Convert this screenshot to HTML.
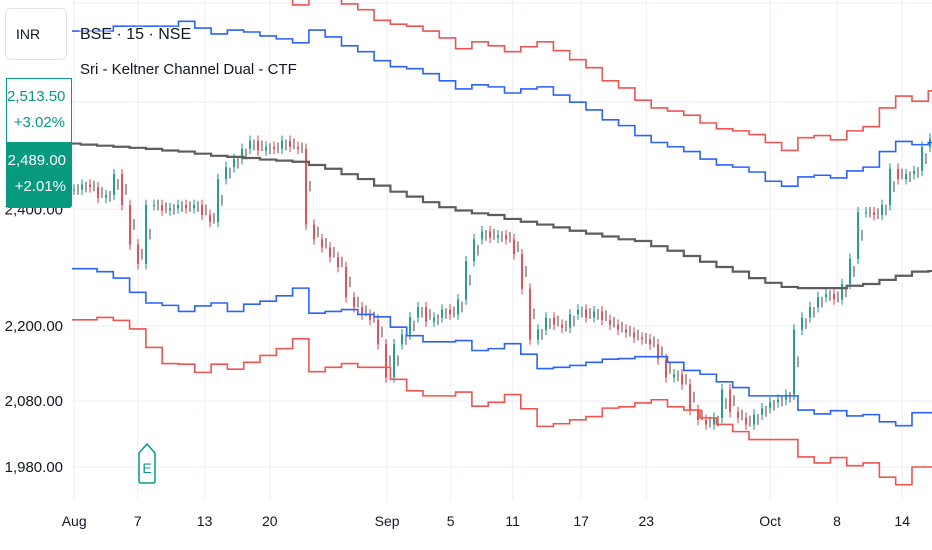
<!DOCTYPE html>
<html><head><meta charset="utf-8">
<style>
html,body{margin:0;padding:0;background:#fff;}
body{width:932px;height:550px;overflow:hidden;position:relative;font-family:"Liberation Sans",sans-serif;}
svg{position:absolute;left:0;top:0;}
.box{position:absolute;box-sizing:border-box;font-size:15px;text-align:right;padding-right:6px;line-height:26px;}
</style></head>
<body>
<svg id="chart" width="932" height="550"></svg>
<div class="box" style="left:5px;top:8px;width:62px;height:52px;border:1px solid #e0e3eb;border-radius:6px;background:#fff;text-align:left;padding-left:10px;line-height:50px;font-size:14px;color:#131722;">INR</div>
<div class="box" style="left:6px;top:78px;width:66px;height:65px;border:1px solid #089981;background:#fff;color:#089981;padding-top:5px;">2,513.50<br>+3.02%</div>
<div class="box" style="left:6px;top:143px;width:66px;height:65px;background:#089981;color:#fff;border-radius:0 0 3px 3px;padding-top:5px;">2,489.00<br>+2.01%</div>
<div style="position:absolute;left:80px;top:26px;font-size:16px;color:#131722;text-shadow:0 0 3px #fff,0 0 3px #fff;">BSE · 15 · NSE</div>
<div style="position:absolute;left:80px;top:61px;font-size:15px;color:#131722;text-shadow:0 0 3px #fff,0 0 3px #fff;">Sri - Keltner Channel Dual - CTF</div>
<script>
// ---- data ----
const yTicks = [2800, 2600, 2400, 2200, 2080, 1980];
const yTickLabels = ["","","2,400.00","2,200.00","2,080.00","1,980.00"];
const xTickLabels = ["Aug","7","13","20","Sep","5","11","17","23","Oct","8","14"];
const xTickPos = [0.6, 4.5, 8.6, 12.6, 19.8, 23.7, 27.5, 31.7, 35.7, 43.3, 47.4, 51.4]; // in step units
const upperOuter = [2850,2855,2855,2865,2865,2865,2865,2875,2860,2848,2852,2848,2840,2825,2796,2810,2810,2798,2786,2764,2756,2752,2742,2728,2706,2720,2712,2700,2710,2720,2702,2684,2668,2642,2628,2604,2589,2583,2575,2560,2549,2545,2538,2523,2508,2532,2536,2528,2545,2553,2589,2612,2602,2622];
const upperInner = [2742,2742,2742,2752,2752,2752,2752,2762,2748,2736,2744,2740,2732,2726,2718,2744,2730,2712,2700,2682,2670,2666,2656,2642,2626,2634,2630,2618,2626,2630,2614,2600,2585,2566,2555,2536,2523,2515,2506,2492,2481,2477,2468,2451,2442,2459,2462,2457,2470,2477,2506,2525,2519,2523];
const middle = [2521,2519,2517,2515,2513,2511,2508,2506,2502,2498,2496,2494,2491,2489,2487,2481,2474,2464,2455,2443,2432,2423,2413,2404,2398,2393,2390,2383,2378,2373,2368,2362,2357,2352,2347,2344,2335,2327,2318,2308,2299,2291,2280,2272,2265,2263,2263,2263,2267,2270,2277,2284,2291,2292];
const lowerInner = [2296,2296,2291,2280,2256,2238,2234,2224,2233,2238,2224,2236,2241,2250,2263,2221,2224,2227,2219,2215,2198,2184,2174,2174,2176,2160,2163,2171,2154,2131,2133,2136,2141,2146,2147,2150,2150,2141,2128,2122,2110,2101,2088,2088,2088,2066,2060,2065,2057,2059,2048,2042,2062,2062];
const lowerOuter = [2210,2210,2214,2209,2195,2165,2139,2138,2125,2138,2130,2141,2152,2163,2179,2126,2133,2139,2133,2133,2114,2096,2088,2088,2094,2072,2078,2090,2068,2041,2045,2051,2056,2069,2071,2077,2082,2071,2066,2054,2044,2033,2021,2021,2021,1995,1986,1994,1982,1986,1965,1954,1980,1980];
const closes = [2436,2445,2440,2421,2426,2464,2408,2338,2304,2408,2408,2398,2402,2408,2402,2408,2390,2378,2455,2477,2492,2511,2526,2508,2515,2511,2526,2515,2511,2373,2347,2333,2316,2299,2248,2231,2219,2210,2170,2117,2170,2186,2214,2231,2207,2214,2227,2219,2244,2309,2347,2361,2350,2354,2347,2321,2262,2178,2194,2214,2202,2197,2219,2227,2214,2224,2210,2202,2194,2189,2181,2178,2170,2146,2117,2122,2106,2066,2051,2044,2054,2098,2063,2054,2044,2059,2069,2078,2082,2090,2194,2214,2231,2248,2253,2244,2270,2313,2395,2395,2390,2408,2474,2455,2464,2470,2515,2530];

// ---- scales ----
const PL=72, PR=932, PB=500;
function yScale(p){ return 467 - 1339*Math.log(p/1980); }
function xStep(j){ return 64.4 + 16.3*j; }
function xCandle(i){ return 74 + 8*i; }

const NS="http://www.w3.org/2000/svg";
const svg=document.getElementById('chart');
function mk(tag,attrs,parent){const e=document.createElementNS(NS,tag);for(const k in attrs)e.setAttribute(k,attrs[k]);(parent||svg).appendChild(e);return e;}

const defs=mk('defs',{});
const cp=mk('clipPath',{id:'plot'},defs);
mk('rect',{x:PL,y:0,width:PR-PL,height:PB},cp);

const grid=mk('g',{});


yTicks.forEach(function(t){
  const y=yScale(t);
  const l=mk('line',{x1:PL,x2:PR,y1:y,y2:y,stroke:'#f0f3fa','stroke-width':1.5},grid);
  
  
});
xTickPos.forEach(function(p){
  const x=xStep(p);
  const l=mk('line',{x1:x,x2:x,y1:0,y2:PB,stroke:'#f0f3fa','stroke-width':1.5},grid);
  
  
});

const plot=mk('g',{'clip-path':'url(#plot)'});



function stepPath(vals,color,name,w){
  let d='';
  vals.forEach(function(v,j){
    const y=yScale(v);
    d+=(j===0?'M':'L')+xStep(j)+','+y+'L'+xStep(j+1)+','+y;
  });
  const p=mk('path',{d:d,fill:'none',stroke:color,'stroke-width':w||1.6},plot);
  
  
}

const cg=mk('g',{},plot);


closes.forEach(function(c,i){
  const o=i===0?c:closes[i-1];
  const col=c>=o?'#089981':'#f23645';
  const hi=Math.max(o,c)*1.004, lo=Math.min(o,c)*0.996;
  const x=xCandle(i);
  const w=mk('line',{x1:x,x2:x,y1:yScale(hi),y2:yScale(lo),stroke:col,'stroke-width':1},cg);
  
  
  const yt=yScale(Math.max(o,c)), yb=yScale(Math.min(o,c));
  const b=mk('rect',{x:x-1,y:yt,width:2,height:Math.max(1,yb-yt),fill:col,opacity:0.8},cg);
  
  
  const m=mk('line',{x1:x+4,x2:x+4,y1:yScale((o+c)/2*1.004),y2:yScale((o+c)/2*0.996),stroke:'#5a3d3d','stroke-width':1},cg);
  
  
});

stepPath(upperOuter,'#f05350','upper-outer-band');
stepPath(upperInner,'#2962ff','upper-inner-band');
stepPath(middle,'#5d5d5d','middle-line',2.2);
stepPath(lowerInner,'#2962ff','lower-inner-band');
stepPath(lowerOuter,'#f05350','lower-outer-band');

yTicks.forEach(function(t,i){
  if(!yTickLabels[i]) return;
  const tx=mk('text',{x:63,y:yScale(t)+5,'text-anchor':'end','font-size':15,fill:'#131722','font-family':'Liberation Sans, sans-serif'});
  tx.textContent=yTickLabels[i];
  
  
});
xTickPos.forEach(function(p,i){
  const tx=mk('text',{x:xStep(p),y:526,'text-anchor':'middle','font-size':14,fill:'#131722','font-family':'Liberation Sans, sans-serif'});
  tx.textContent=xTickLabels[i];
  
  
});

const eg=mk('g',{});


mk('path',{d:'M139,453 L147,444 L155,453 L155,481 Q155,483 153,483 L141,483 Q139,483 139,481 Z',fill:'#fff',stroke:'#089981','stroke-width':1.5},eg);
const et=mk('text',{x:147,y:473,'text-anchor':'middle','font-size':14,fill:'#089981','font-family':'Liberation Sans, sans-serif'},eg);
et.textContent='E';
</script>
</body></html>
